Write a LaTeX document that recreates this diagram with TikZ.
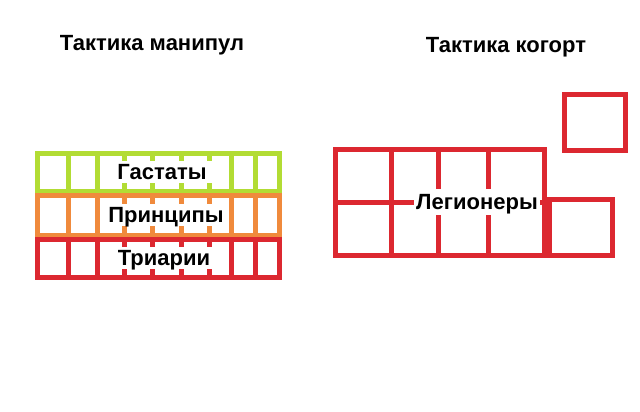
\documentclass[tikz,border=0pt]{standalone}
\usepackage{fontspec}
\setmainfont{Liberation Sans}
\definecolor{hastgreen}{HTML}{B2DC34}
\definecolor{princorange}{HTML}{F08A3C}
\definecolor{triared}{HTML}{DC2830}
\tikzset{
  wall/.style={line width=5pt},
  title/.style={font=\bfseries\fontsize{22}{26}\selectfont},
  rowlabel/.style={font=\bfseries\fontsize{22}{26}\selectfont, fill=white,
    text height=15.5pt, text depth=0pt, inner xsep=6.5pt, inner ysep=3.5pt}
}
\begin{document}
\begin{tikzpicture}[x=1pt,y=-1pt]
  \useasboundingbox (0,0) rectangle (640,412);

  % titles
  \node[title] (manip) at (152,45) {Тактика манипул};
  \node[title] (cohort) at (506,47) {Тактика когорт};

  % manipular lines
  \draw[wall,hastgreen] (37,153) rectangle (279,191);
  \draw[wall,hastgreen] (68,153) -- (68,191) (97,153) -- (97,191)
    (124,153) -- (124,191) (152,153) -- (152,191) (181,153) -- (181,191)
    (209,153) -- (209,191) (231,153) -- (231,191) (255,153) -- (255,191);

  \draw[wall,princorange] (37,195) rectangle (279,235);
  \draw[wall,princorange] (68,195) -- (68,235) (97,195) -- (97,235)
    (124,195) -- (124,235) (152,195) -- (152,235) (181,195) -- (181,235)
    (209,195) -- (209,235) (231,195) -- (231,235) (255,195) -- (255,235);

  \draw[wall,triared] (37,239) rectangle (279,277);
  \draw[wall,triared] (68,239) -- (68,277) (97,239) -- (97,277)
    (124,239) -- (124,277) (152,239) -- (152,277) (181,239) -- (181,277)
    (209,239) -- (209,277) (231,239) -- (231,277) (255,239) -- (255,277);

  \node[rowlabel] (hast) at (162,172) {Гастаты};
  \node[rowlabel, inner xsep=3pt] (princ) at (166,215) {Принципы};
  \node[rowlabel] (triar) at (164,258) {Триарии};

  % cohort
  \draw[wall,triared] (335,149) rectangle (544,255);
  \draw[wall,triared] (335,202) -- (548,202);
  \draw[wall,triared] (391,149) -- (391,255) (438,149) -- (438,255)
    (488,149) -- (488,255);
  \draw[wall,triared] (549,199) rectangle (612,255);
  \draw[wall,triared] (564,94) rectangle (625,150);

  \node[rowlabel, inner xsep=2pt, inner ysep=5pt] (legion) at (477,202) {Легионеры};
\end{tikzpicture}
\end{document}
